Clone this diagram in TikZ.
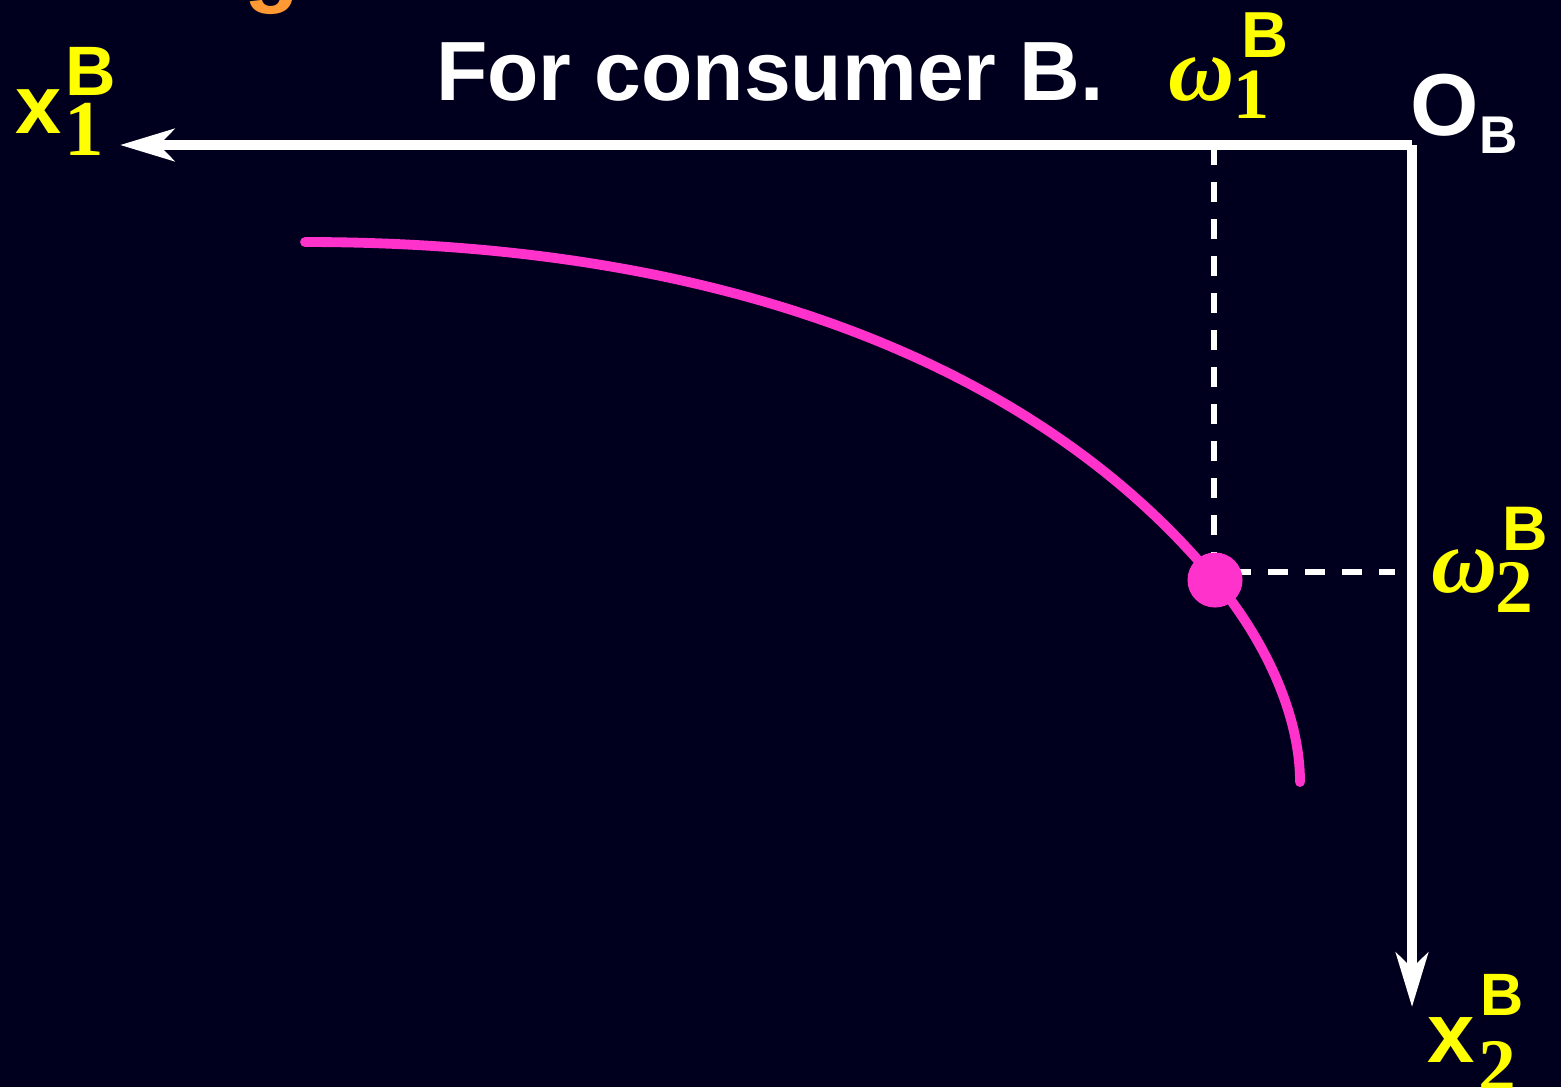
\documentclass[tikz,border=0pt]{standalone}
\usepackage{fontspec}
\setmainfont{Liberation Serif}
\setsansfont{Liberation Sans}
\usepackage{xcolor}
\usetikzlibrary{arrows.meta}

\definecolor{bgnavy}{RGB}{0,0,30}
\definecolor{curvepink}{RGB}{255,51,204}
\definecolor{labyellow}{RGB}{255,255,0}
\definecolor{titleorange}{RGB}{255,153,51}

\newcommand{\fsz}[1]{\fontsize{#1pt}{#1pt}\selectfont}

\begin{document}
\begin{tikzpicture}[x=0.01cm, y=-0.01cm,
  axis/.style={draw=white, line width=2.7pt,
    -{Stealth[length=0.54cm, width=0.32cm, inset=0.15cm]}},
  guide/.style={draw=white, line width=1.5pt, dash pattern=on 0.2cm off 0.17cm},
  indiff/.style={draw=curvepink, line width=2.8pt, line cap=round},
  lab/.style={inner sep=0pt, anchor=base west, text=labyellow},
  sfb/.style={font=\sffamily\bfseries\fsz{#1}},
  rmb/.style={font=\rmfamily\bfseries\fsz{#1}},
  omg/.style={font=\rmfamily\bfseries\itshape\fsz{#1}}
]
\useasboundingbox (0,0) rectangle (1561,1087);
\fill[bgnavy] (0,0) rectangle (1561,1087);
\clip (0,0) rectangle (1561,1087);

% cut-off title letter
\node[inner sep=0pt, anchor=base west, text=titleorange, sfb=25.6] (ttl) at (244,-5) {g};
\node[inner sep=0pt, anchor=base, text=white, sfb=23.9] (head) at (770,100) {For consumer B.};

% origin and axes
\coordinate (OB) at (1412,145);
\coordinate (x1end) at (120,145);
\coordinate (x2end) at (1412,1007);
\draw[axis] (OB) -- (x1end);
\draw[axis] (OB) -- (x2end);

% endowment guides
\coordinate (w1top) at (1214,145);
\coordinate (wcorner) at (1214,572);
\coordinate (w2right) at (1395,572);
\draw[guide] (w1top) -- (wcorner) -- (w2right);

% indifference curve through endowment
\coordinate (cstart) at (305,242);
\coordinate (cend) at (1300,782);
\node[circle, fill=curvepink, inner sep=0pt, minimum size=0.55cm] (endow) at (1215,580) {};
\draw[indiff] (cstart) .. controls (750,242) and (1050,380) .. (endow.center)
  .. controls (1265,640) and (1300,715) .. (cend);
\fill[curvepink] (endow) circle[radius=27];

% axis labels
\node[lab, sfb=23.6] (x1) at (15,133) {x};
\node[lab, sfb=19.9] (x1B) at (65,95) {B};
\node[lab, rmb=22.5] (x1n) at (64,155) {1};

\node[lab, sfb=24.2] (x2) at (1427,1062) {x};
\node[lab, sfb=17] (x2B) at (1480,1015) {B};
\node[lab, rmb=21.5] (x2n) at (1478,1091) {2};

\node[lab, text=white, sfb=25] (O) at (1410,135) {O};
\node[lab, text=white, sfb=15.1] (OBsub) at (1479,153) {B};

% endowment labels
\node[lab, omg=26] (w1) at (1168,100) {ω};
\node[lab, rmb=20.5] (w1n) at (1233,118) {1};
\node[lab, sfb=18.5] (w1B) at (1241,57) {B};

\node[lab, omg=26] (w2) at (1431,592) {ω};
\node[lab, rmb=21.5] (w2n) at (1495,612) {2};
\node[lab, sfb=17.9] (w2B) at (1502,550) {B};
\end{tikzpicture}
\end{document}
